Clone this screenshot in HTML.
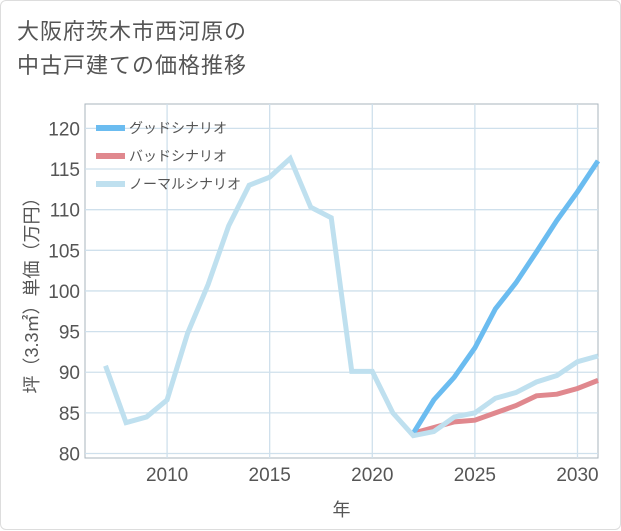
<!DOCTYPE html>
<html><head><meta charset="utf-8"><style>
body{margin:0;background:#fff;font-family:"Liberation Sans","Noto Sans CJK JP",sans-serif;}
.card{position:absolute;left:0;top:0;width:619px;height:528px;border:1px solid #ddd;border-radius:6px;background:#fff;}
.title{position:absolute;left:16px;top:14px;font-size:22px;line-height:34px;color:#555;letter-spacing:1px;}
</style></head><body>
<div class="card">
<div class="title">大阪府茨木市西河原の<br>中古戸建ての価格推移</div>
<svg id="chart" width="621" height="530" style="position:absolute;left:0;top:0"></svg>
</div>
<script>
const years=[2007,2008,2009,2010,2011,2012,2013,2014,2015,2016,2017,2018,2019,2020,2021,2022,2023,2024,2025,2026,2027,2028,2029,2030,2031];
const normalValues=[90.8,83.8,84.5,86.6,94.8,100.8,108,113,114,116.3,110.3,109,90.1,90.1,85,82.2,82.7,84.5,85,86.8,87.5,88.8,89.6,91.3,92];
const futureYears=[2022,2023,2024,2025,2026,2027,2028,2029,2030,2031];
const goodValues=[82.5,86.6,89.4,93,97.8,101,104.8,108.7,112.2,116];
const badValues=[82.5,83.2,83.9,84.1,85,85.9,87.1,87.3,88,89];
const xTicks=[2010,2015,2020,2025,2030];
const yTicks=[80,85,90,95,100,105,110,115,120];
const L=84,R=597,T=103,B=457;
const xMin=2006,xMax=2031,yMin=79.45,yMax=123;
const X=v=>L+(v-xMin)/(xMax-xMin)*(R-L);
const Y=v=>B-(v-yMin)/(yMax-yMin)*(B-T);
const svg=document.getElementById('chart');const NS='http://www.w3.org/2000/svg';
function mk(t,a,p){const e=document.createElementNS(NS,t);for(const k in a)e.setAttribute(k,a[k]);(p||svg).appendChild(e);return e;}
const bg=mk('rect',{x:L,y:T,width:R-L,height:B-T,fill:'#fff',stroke:'#aab4be'});


yTicks.forEach(v=>{
 const g=mk('line',{x1:L,x2:R,y1:Y(v),y2:Y(v),stroke:'#cfe0ec','stroke-width':1.3});
 
 
 const t=mk('text',{x:L-5,y:Y(v)+7,'text-anchor':'end','font-size':19,fill:'#555'});t.textContent=v;
 
 
});
xTicks.forEach(v=>{
 const g=mk('line',{x1:X(v),x2:X(v),y1:T,y2:B,stroke:'#cfe0ec','stroke-width':1.3});
 
 
 const t=mk('text',{x:X(v),y:B+23,'text-anchor':'middle','font-size':19,fill:'#555'});t.textContent=v;
 
 
});
const xt=mk('text',{x:(L+R)/2,y:515,'text-anchor':'middle','font-size':18,fill:'#555'});xt.textContent='年';


const yt=mk('text',{x:0,y:0,transform:'translate(37,'+((T+B)/2+10)+') rotate(-90)','text-anchor':'middle','font-size':18,fill:'#555'});yt.textContent='坪（3.3㎡）単価（万円）';


function line(xs,vs,c,name){const p=mk('polyline',{points:xs.map((x,i)=>X(x)+','+Y(vs[i])).join(' '),fill:'none',stroke:c,'stroke-width':5,'stroke-linejoin':'miter'});
 
 }
line(futureYears,badValues,'#e0888e','bad-scenario-line');
line(futureYears,goodValues,'#6bbcf0','good-scenario-line');
line(years,normalValues,'#bfe0ef','normal-scenario-line');
const leg=[['グッドシナリオ','#6bbcf0'],['バッドシナリオ','#e0888e'],['ノーマルシナリオ','#bfe0ef']];
leg.forEach((d,i)=>{const y=127+i*28;
 const s=mk('line',{x1:95,x2:124,y1:y,y2:y,stroke:d[1],'stroke-width':6});
 
 
 const t=mk('text',{x:128,y:y+5,'font-size':14,fill:'#555'});t.textContent=d[0];
 
 
});
</script>
</body></html>
